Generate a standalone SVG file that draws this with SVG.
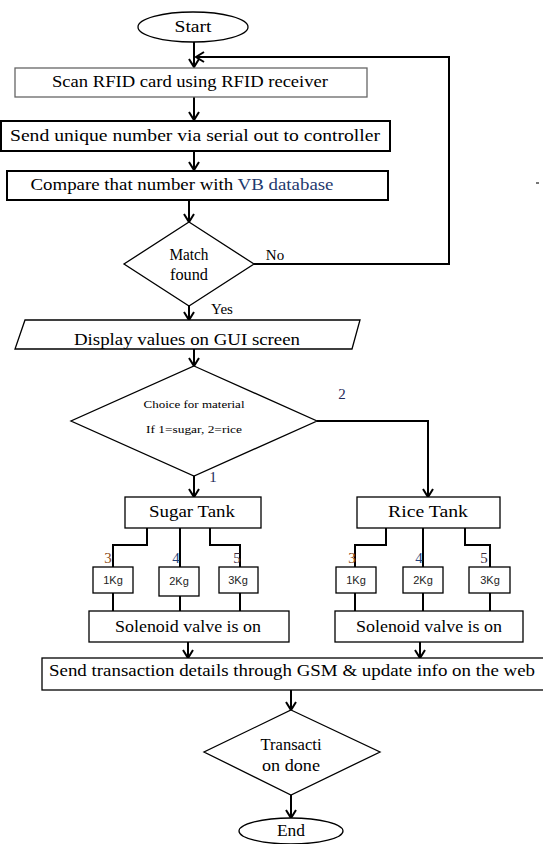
<svg xmlns="http://www.w3.org/2000/svg" width="543" height="844" viewBox="0 0 543 844">
<defs>
<marker id="arr" markerWidth="12" markerHeight="12" refX="10" refY="6" orient="auto" markerUnits="userSpaceOnUse">
<path d="M2,1 L10,6 L2,11" fill="none" stroke="#000" stroke-width="2"/>
</marker>
<style>
.t{font-family:"Liberation Serif","Times New Roman","DejaVu Serif",serif;font-size:16px;fill:#000;text-anchor:middle}
.s{font-family:"Liberation Sans",Arial,sans-serif;font-size:11px;fill:#222;text-anchor:middle}
.n{font-family:"Liberation Serif","Times New Roman",serif;font-size:15px;text-anchor:middle}
.b{fill:#fff;stroke:#000;stroke-width:2}
.b1{fill:#fff;stroke:#000;stroke-width:1.3}
.c{fill:none;stroke:#000;stroke-width:2}
.a{fill:none;stroke:#000;stroke-width:2;marker-end:url(#arr)}
</style>
</defs>
<rect width="543" height="844" fill="#fff"/>
<g id="connectors">
<line class="a" x1="194" y1="41" x2="194" y2="67"/>
<polyline class="a" points="254,264 449,264 449,57 196,57"/>
<line class="a" x1="194" y1="97" x2="194" y2="120"/>
<line class="a" x1="194" y1="151" x2="194" y2="170"/>
<line class="a" x1="189" y1="200" x2="189" y2="222"/>
<line class="a" x1="189" y1="306" x2="189" y2="320"/>
<line class="a" x1="194" y1="349" x2="194" y2="366"/>
<line class="a" x1="194" y1="474" x2="194" y2="497"/>
<polyline class="a" points="317,421 428,421 428,497"/>
<polyline class="c" points="147,528 147,545 113,545 113,567"/>
<line class="c" x1="180" y1="528" x2="180" y2="567"/>
<polyline class="c" points="210,528 210,545 240,545 240,567"/>
<line class="c" x1="113" y1="593" x2="113" y2="611"/>
<line class="c" x1="180" y1="596" x2="180" y2="611"/>
<line class="c" x1="240" y1="593" x2="240" y2="611"/>
<polyline class="c" points="386,528 386,545 355,545 355,567"/>
<line class="c" x1="423" y1="528" x2="423" y2="567"/>
<polyline class="c" points="465,528 465,545 490,545 490,567"/>
<line class="c" x1="355" y1="593" x2="355" y2="611"/>
<line class="c" x1="423" y1="593" x2="423" y2="611"/>
<line class="c" x1="490" y1="593" x2="490" y2="611"/>
<line class="a" x1="188" y1="642" x2="188" y2="658"/>
<line class="a" x1="420" y1="642" x2="420" y2="658"/>
<line class="a" x1="291" y1="690" x2="291" y2="710"/>
<line class="a" x1="291" y1="795" x2="291" y2="818"/>
</g>
<g id="start"><ellipse cx="193" cy="27" rx="55" ry="15" class="b1"/><text class="t" x="193" y="32" textLength="37" lengthAdjust="spacingAndGlyphs">Start</text></g>
<g id="scan"><rect x="15" y="68" width="352" height="29" fill="#fff" stroke="#666" stroke-width="1.3"/><text class="t" x="190" y="87" textLength="276" lengthAdjust="spacingAndGlyphs">Scan RFID card using RFID receiver</text></g>
<g id="send"><rect x="1" y="121" width="389" height="30" class="b"/><text class="t" x="195" y="141" textLength="370" lengthAdjust="spacingAndGlyphs">Send unique number via serial out to controller</text></g>
<g id="compare"><rect x="7" y="171" width="381" height="29" class="b"/><text class="t" x="182" y="190" textLength="303" lengthAdjust="spacingAndGlyphs">Compare that number with <tspan fill="#1f3a6e">VB database</tspan></text></g>
<rect x="536" y="182" width="3" height="2" fill="#777"/>
<g id="match"><polygon points="189,222 254,264 189,306 124,264" class="b1"/><text class="t" x="189" y="260" textLength="39" lengthAdjust="spacingAndGlyphs">Match</text><text class="t" x="189" y="280" textLength="38" lengthAdjust="spacingAndGlyphs">found</text></g>
<text class="n" x="275" y="260" fill="#000">No</text>
<text class="n" x="222" y="314" fill="#000">Yes</text>
<g id="display"><polygon points="25,320 360,320 352,349 15,349" class="b1"/><text class="t" x="187" y="345" textLength="226" lengthAdjust="spacingAndGlyphs">Display values on GUI screen</text></g>
<g id="choice"><polygon points="194,366 317,421 194,476 71,421" class="b1"/><text class="t" x="194" y="408" style="font-size:11px" textLength="101" lengthAdjust="spacingAndGlyphs">Choice for material</text><text class="t" x="194" y="433" style="font-size:11px" textLength="96" lengthAdjust="spacingAndGlyphs">If 1=sugar, 2=rice</text></g>
<text class="n" x="342" y="399" fill="#1f2a5a">2</text>
<text class="n" x="213" y="482" fill="#1f2a5a">1</text>
<g id="sugar"><rect x="125" y="497" width="136" height="31" class="b1"/><text class="t" x="192" y="517" textLength="86" lengthAdjust="spacingAndGlyphs">Sugar Tank</text></g>
<g id="rice"><rect x="357" y="497" width="143" height="31" class="b1"/><text class="t" x="428" y="517" textLength="80" lengthAdjust="spacingAndGlyphs">Rice Tank</text></g>
<text class="n" x="108" y="563" fill="#8a4b16">3</text>
<text class="n" x="176" y="563" fill="#1f3f7a">4</text>
<text class="n" x="237" y="563" fill="#3a2a40">5</text>
<text class="n" x="352" y="563" fill="#8a4b16">3</text>
<text class="n" x="419" y="563" fill="#1f3f7a">4</text>
<text class="n" x="484" y="563" fill="#3a2a40">5</text>
<g id="s1"><rect x="93" y="567" width="40" height="26" class="b1"/><text class="s" x="113" y="584">1Kg</text></g>
<g id="s2"><rect x="159" y="567" width="40" height="29" class="b1"/><text class="s" x="179" y="585">2Kg</text></g>
<g id="s3"><rect x="219" y="567" width="39" height="26" class="b1"/><text class="s" x="238" y="584">3Kg</text></g>
<g id="r1"><rect x="336" y="567" width="40" height="26" class="b1"/><text class="s" x="356" y="584">1Kg</text></g>
<g id="r2"><rect x="403" y="567" width="40" height="26" class="b1"/><text class="s" x="423" y="584">2Kg</text></g>
<g id="r3"><rect x="469" y="567" width="41" height="26" class="b1"/><text class="s" x="490" y="584">3Kg</text></g>
<g id="sol1"><rect x="89" y="611" width="200" height="31" class="b1"/><text class="t" x="188" y="632" textLength="146" lengthAdjust="spacingAndGlyphs">Solenoid valve is on</text></g>
<g id="sol2"><rect x="335" y="611" width="188" height="31" class="b1"/><text class="t" x="429" y="632" textLength="146" lengthAdjust="spacingAndGlyphs">Solenoid valve is on</text></g>
<g id="gsm"><rect x="42" y="658" width="503" height="32" class="b1"/><text class="t" x="292" y="676" textLength="486" lengthAdjust="spacingAndGlyphs">Send transaction details through GSM &amp; update info on the web</text></g>
<g id="done"><polygon points="291,710 380,752 291,795 204,752" class="b1"/><text class="t" x="291" y="750" textLength="61" lengthAdjust="spacingAndGlyphs">Transacti</text><text class="t" x="291" y="771" textLength="58" lengthAdjust="spacingAndGlyphs">on done</text></g>
<g id="end"><ellipse cx="291" cy="831" rx="52" ry="13" class="b1"/><text class="t" x="291" y="836" textLength="28" lengthAdjust="spacingAndGlyphs">End</text></g>
</svg>
